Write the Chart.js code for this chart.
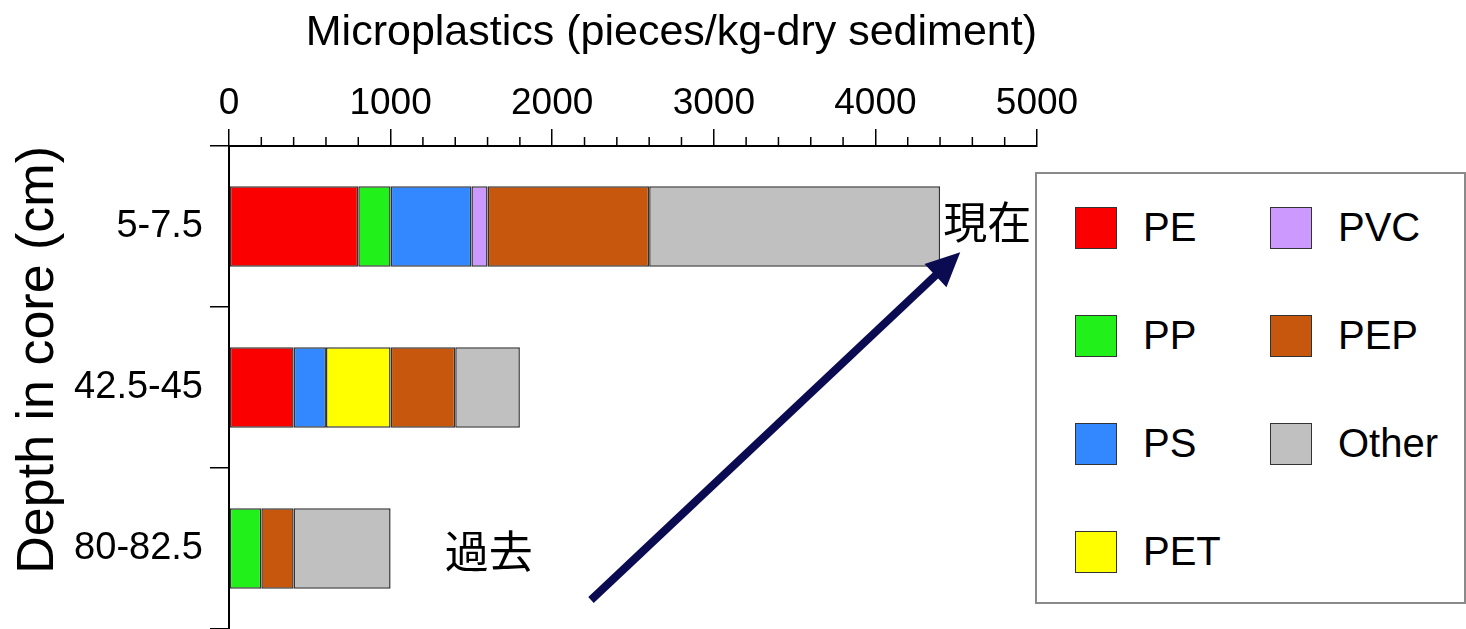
<!DOCTYPE html>
<html>
<head>
<meta charset="utf-8">
<title>Microplastics by depth</title>
<script src="https://cdn.jsdelivr.net/npm/chart.js@4.4.1/dist/chart.umd.min.js"></script>
<style>
  html, body { margin: 0; padding: 0; background: #fff; overflow: hidden; }
  #wrap { position: relative; width: 1466px; height: 629px; }
  #legend {
    position: absolute; left: 1035px; top: 172px;
    width: 427px; height: 428px;
    border: 2px solid #8a8a8a; background: #fff;
  }
  .item {
    position: absolute; display: flex; align-items: center;
    font: 40px "Liberation Sans", Arial, sans-serif; color: #000;
  }
  .swatch {
    width: 40px; height: 40px; border: 1px solid #333;
    margin-right: 26px;
  }
</style>
</head>
<body>
<div id="wrap">
  <canvas id="chart" width="1466" height="629"></canvas>
  <div id="legend"></div>
</div>
<script>
// categories (top = shallow)
const depths = ['5-7.5', '42.5-45', '80-82.5'];

// pieces/kg-dry sediment per polymer, one value per depth
const PE    = [800, 400, 0];
const PP    = [200, 0, 200];
const PS    = [500, 200, 0];
const PET   = [0, 400, 0];
const PVC   = [100, 0, 0];
const PEP   = [1000, 400, 200];
const Other = [1800, 400, 600];

const polymers = ['PE', 'PP', 'PS', 'PET', 'PVC', 'PEP', 'Other'];
const polymerValues = [PE, PP, PS, PET, PVC, PEP, Other];
const polymerColors = ['#fa0000', '#22f01a', '#3388ff', '#ffff00', '#cc99ff', '#c6570c', '#c0c0c0'];

const xTickValues = [0, 1000, 2000, 3000, 4000, 5000];

const latinFont = "'Liberation Sans', Arial, sans-serif";
const cjkFont = "'Noto Sans CJK JP', sans-serif";

// minor ticks every 200 on the top axis
const minorTicks = {
    id: 'minorTicks',
    afterDraw(chart) {
        const xs = chart.scales.x;
        const top = chart.chartArea.top;
        const ctx = chart.ctx;
        ctx.save();
        ctx.strokeStyle = '#000';
        ctx.lineWidth = 1.5;
        for (let v = xs.min; v < xs.max; v += 200) {
            if (v % 1000 === 0) continue;
            const px = xs.getPixelForValue(v);
            ctx.beginPath();
            ctx.moveTo(px, top - 9);
            ctx.lineTo(px, top);
            ctx.stroke();
        }
        ctx.restore();
    }
};

// 現在 / 過去 labels and the arrow between them
const timeArrow = {
    id: 'timeArrow',
    afterDatasetsDraw(chart) {
        const xs = chart.scales.x;
        const ys = chart.scales.y;
        const ctx = chart.ctx;
        ctx.save();
        ctx.fillStyle = '#000';
        ctx.font = '44px ' + cjkFont;
        ctx.textBaseline = 'middle';
        ctx.textAlign = 'left';
        ctx.fillText('現在', xs.getPixelForValue(4420), ys.getPixelForValue(0) - 4);
        ctx.fillText('過去', xs.getPixelForValue(1335), ys.getPixelForValue(2.02));

        const x0 = xs.getPixelForValue(2240), y0 = ys.getPixelForValue(2.32);
        const x1 = xs.getPixelForValue(4525), y1 = ys.getPixelForValue(0.16);
        const ang = Math.atan2(y1 - y0, x1 - x0);
        const headLen = 34, headHalf = 16;
        const bx = x1 - headLen * Math.cos(ang), by = y1 - headLen * Math.sin(ang);
        ctx.strokeStyle = '#0b0b52';
        ctx.fillStyle = '#0b0b52';
        ctx.lineWidth = 8;
        ctx.lineCap = 'butt';
        ctx.beginPath();
        ctx.moveTo(x0, y0);
        ctx.lineTo(bx + 2 * Math.cos(ang), by + 2 * Math.sin(ang));
        ctx.stroke();
        ctx.beginPath();
        ctx.moveTo(x1, y1);
        ctx.lineTo(bx + headHalf * Math.sin(ang), by - headHalf * Math.cos(ang));
        ctx.lineTo(bx - headHalf * Math.sin(ang), by + headHalf * Math.cos(ang));
        ctx.closePath();
        ctx.fill();
        ctx.restore();
    }
};

const datasets = polymers.map((name, i) => ({
    label: name,
    data: polymerValues[i],
    backgroundColor: polymerColors[i],
    borderColor: '#333',
    borderWidth: c => (c.raw ? 1.5 : 0),
    borderSkipped: false,
    categoryPercentage: 1,
    barPercentage: 0.5
}));

new Chart(document.getElementById('chart'), {
    type: 'bar',
    data: { labels: depths, datasets: datasets },
    plugins: [minorTicks, timeArrow],
    options: {
        indexAxis: 'y',
        responsive: false,
        animation: false,
        layout: { padding: { left: 0, right: 429, top: 0, bottom: 0 } },
        plugins: {
            legend: { display: false },
            tooltip: { enabled: false }
        },
        scales: {
            x: {
                position: 'top',
                stacked: true,
                min: 0,
                max: 5000,
                afterBuildTicks: s => { s.ticks = xTickValues.map(v => ({ value: v })); },
                ticks: {
                    color: '#000',
                    padding: 3,
                    maxRotation: 0,
                    callback: v => String(v),
                    font: { size: 37, family: "'Liberation Sans Narrow', " + latinFont }
                },
                grid: { drawOnChartArea: false, tickLength: 17, color: '#000', lineWidth: 1.5 },
                border: { color: '#000', width: 2 },
                title: {
                    display: true,
                    text: 'Microplastics (pieces/kg-dry sediment)',
                    align: 'end',
                    color: '#000',
                    font: { size: 43, family: latinFont },
                    padding: { top: 7, bottom: 0 }
                },
                afterFit: s => { s.height = 146; }
            },
            y: {
                stacked: true,
                ticks: {
                    color: '#000',
                    padding: 7,
                    font: { size: 38, family: latinFont }
                },
                grid: { drawOnChartArea: false, tickLength: 19, color: '#000', lineWidth: 1.5, offset: true },
                border: { color: '#000', width: 2 },
                title: {
                    display: true,
                    text: 'Depth in core (cm)',
                    align: 'end',
                    color: '#000',
                    font: { size: 52, family: latinFont },
                    padding: { top: 7, bottom: 0 }
                },
                afterFit: s => {
                    s.width = 229;
                    s.paddingTop = 0;
                    s.paddingBottom = 0;
                }
            }
        }
    }
});

// two-column legend in a framed box
const legendBox = document.getElementById('legend');
polymers.forEach((name, i) => {
    const col = i < 4 ? 0 : 1;
    const row = i < 4 ? i : i - 4;
    const item = document.createElement('div');
    item.className = 'item';
    item.style.left = (38 + col * 195) + 'px';
    item.style.top = (31 + row * 108) + 'px';
    item.innerHTML = `<span class="swatch" style="background:${polymerColors[i]}"></span><span>${name}</span>`;
    legendBox.appendChild(item);
});
</script>
</body>
</html>
